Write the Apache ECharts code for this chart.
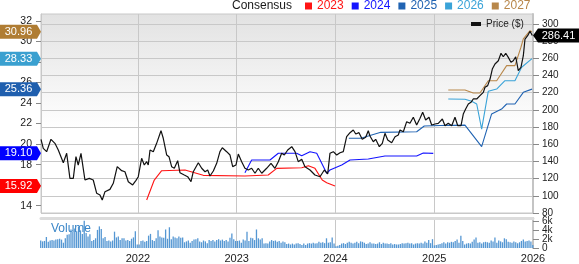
<!DOCTYPE html>
<html>
<head>
<meta charset="utf-8">
<script src="https://cdn.jsdelivr.net/npm/echarts@6/dist/echarts.min.js"></script>
<style>
html,body{margin:0;padding:0;background:#fff;}
#chart{width:579px;height:264px;}
</style>
</head>
<body>
<div id="chart"></div>
<script>
// ---------- data (x values are decimal years) ----------
const yearTicks = [2022, 2023, 2024, 2025, 2026];
const priceTicks = [80, 100, 120, 140, 160, 180, 200, 220, 240, 260, 280, 300];
const epsTicks = [14, 16, 18, 20, 22, 24, 26, 28, 30, 32];
const volumeTicks = [0, 2, 4, 6];

const epsNames = ['2023', '2024', '2025', '2026', '2027'];

const eps2023 = [[2022.088,14.56],[2022.165,16.50],[2022.240,17.41],[2022.476,17.48],[2022.661,16.96],[2023.083,16.89],[2023.319,16.99],[2023.405,17.64],[2023.658,17.70],[2023.725,17.90],[2023.792,17.64],[2023.866,16.50],[2023.911,16.24],[2023.995,15.92]];
const eps2024 = [[2023.083,17.22],[2023.151,18.45],[2023.337,18.45],[2023.421,19.11],[2023.607,19.11],[2023.658,18.87],[2023.742,19.26],[2023.810,19.11],[2023.911,17.16],[2023.944,17.48],[2024.063,17.97],[2024.147,18.45],[2024.332,18.55],[2024.501,18.84],[2024.822,18.84],[2024.889,19.13],[2024.990,19.10]];
const eps2025 = [[2024.135,20.57],[2024.256,20.57],[2024.459,21.15],[2024.822,21.21],[2024.899,21.77],[2025.058,21.82],[2025.311,21.85],[2025.480,19.75],[2025.581,22.94],[2025.682,23.42],[2025.733,23.91],[2025.817,23.91],[2025.902,25.05],[2025.990,25.36]];
const eps2026 = [[2025.142,24.40],[2025.311,24.37],[2025.379,24.17],[2025.430,23.91],[2025.480,21.47],[2025.547,25.15],[2025.632,25.37],[2025.716,26.18],[2025.817,26.18],[2025.885,27.49],[2025.990,28.33]];
const eps2027 = [[2025.142,25.28],[2025.311,25.28],[2025.395,24.98],[2025.463,24.98],[2025.547,26.18],[2025.632,26.18],[2025.733,27.65],[2025.817,27.65],[2025.878,29.44],[2025.902,30.25],[2025.970,31.06],[2025.990,30.96]];

const price = [[2021.018,165.7],[2021.041,155.2],[2021.075,151.3],[2021.119,165.7],[2021.159,161.0],[2021.193,153.3],[2021.244,138.5],[2021.278,149.4],[2021.311,120.3],[2021.345,120.3],[2021.372,145.5],[2021.395,135.8],[2021.423,149.4],[2021.463,118.4],[2021.507,120.3],[2021.547,118.4],[2021.582,102.9],[2021.615,101.0],[2021.638,95.1],[2021.666,104.8],[2021.716,107.5],[2021.750,114.5],[2021.790,133.9],[2021.835,129.2],[2021.868,128.0],[2021.902,116.4],[2021.946,112.6],[2021.980,118.0],[2022.003,122.2],[2022.037,143.6],[2022.064,135.8],[2022.088,139.7],[2022.104,135.8],[2022.122,153.3],[2022.155,151.3],[2022.189,161.0],[2022.233,175.7],[2022.256,166.9],[2022.291,147.4],[2022.314,145.5],[2022.341,133.9],[2022.368,132.0],[2022.402,140.8],[2022.425,126.9],[2022.469,124.2],[2022.503,122.2],[2022.537,116.4],[2022.560,128.0],[2022.577,126.9],[2022.611,138.5],[2022.645,132.0],[2022.679,128.0],[2022.706,130.0],[2022.729,123.0],[2022.763,128.8],[2022.797,137.8],[2022.830,151.3],[2022.854,155.9],[2022.898,151.3],[2022.932,147.4],[2022.959,133.9],[2022.992,135.8],[2023.016,148.5],[2023.050,139.7],[2023.083,132.0],[2023.117,130.0],[2023.151,132.0],[2023.185,126.2],[2023.218,132.0],[2023.253,126.2],[2023.303,132.0],[2023.347,137.8],[2023.387,132.0],[2023.421,139.7],[2023.455,149.4],[2023.482,147.4],[2023.516,153.3],[2023.557,157.1],[2023.590,151.3],[2023.623,139.7],[2023.658,142.4],[2023.691,133.9],[2023.742,130.0],[2023.792,124.2],[2023.843,122.2],[2023.887,130.0],[2023.921,125.4],[2023.944,149.4],[2023.978,151.3],[2024.012,147.4],[2024.046,150.1],[2024.079,151.3],[2024.113,168.7],[2024.147,173.4],[2024.180,176.5],[2024.205,171.9],[2024.238,173.4],[2024.271,165.7],[2024.306,168.0],[2024.332,175.7],[2024.349,169.5],[2024.383,162.9],[2024.407,165.7],[2024.444,157.1],[2024.474,161.0],[2024.501,172.7],[2024.529,164.9],[2024.569,161.7],[2024.603,168.7],[2024.636,170.7],[2024.653,176.5],[2024.687,174.5],[2024.721,186.2],[2024.754,184.3],[2024.788,191.3],[2024.822,182.3],[2024.856,190.1],[2024.883,197.1],[2024.913,188.1],[2024.947,191.3],[2024.974,182.3],[2025.008,183.5],[2025.041,184.3],[2025.082,189.3],[2025.109,181.5],[2025.142,184.3],[2025.177,181.5],[2025.210,191.3],[2025.238,181.5],[2025.271,181.5],[2025.294,195.1],[2025.318,200.9],[2025.345,206.7],[2025.372,208.7],[2025.395,212.6],[2025.430,212.6],[2025.463,216.4],[2025.497,220.3],[2025.514,226.2],[2025.541,228.1],[2025.565,235.8],[2025.588,247.4],[2025.615,253.3],[2025.649,257.1],[2025.676,265.7],[2025.699,261.7],[2025.724,265.7],[2025.750,261.0],[2025.777,255.2],[2025.800,257.1],[2025.825,261.7],[2025.851,245.5],[2025.878,249.4],[2025.902,262.9],[2025.919,282.3],[2025.946,286.2],[2025.970,291.3],[2025.993,286.41]];

// weekly volume (thousands), one list per year
const vol2021 = [1.7,1.5,1.6,2.5,1.4,1.7,1.8,1.7,1.9,2.0,2.1,1.9,1.2,2.2,3.0,3.1,4.2,3.6,4.4,3.8,4.8,4.0,3.2,6.2,3.4,2.6,3.1,1.6,1.8,2.2,4.1,4.9,4.3,2.2,2.5,1.6,1.7,1.5,1.7,3.7,2.4,2.6,1.8,2.2,2.2,1.7,1.8,1.6,2.1,2.4,3.8,0.8];
const vol2022 = [0.8,1.6,1.7,1.4,1.6,2.8,3.2,1.8,1.6,2.2,4.0,2.6,2.4,2.3,4.2,2.1,4.7,2.0,2.6,2.4,2.2,2.6,2.3,2.4,1.3,1.5,1.7,1.2,1.6,1.9,2.0,2.2,1.5,1.3,1.7,1.5,1.1,1.8,1.6,1.8,1.5,1.8,2.0,1.7,1.9,1.6,1.8,1.5,2.3,3.3,2.0,1.6];
const vol2023 = [1.6,1.7,1.2,1.9,1.7,3.7,1.6,2.3,2.2,1.8,4.2,2.2,1.9,2.2,1.0,1.1,1.0,1.5,1.8,1.6,1.7,1.4,1.6,1.2,1.5,1.3,0.9,1.0,0.8,1.0,0.8,1.0,1.1,0.9,0.7,1.0,0.7,1.0,1.1,1.0,1.2,1.0,1.1,1.4,1.2,1.3,1.1,2.2,1.2,1.3,2.4,1.0];
const vol2024 = [0.4,0.5,0.7,1.0,1.1,0.9,1.2,1.4,1.2,1.0,1.2,1.4,1.1,1.5,1.4,1.2,0.9,1.0,1.3,1.0,1.0,0.9,1.0,1.3,0.9,1.2,1.0,1.0,0.9,1.1,0.8,0.9,0.8,0.8,0.9,1.1,1.0,1.1,1.2,1.0,1.1,0.8,1.0,1.1,1.0,1.2,1.0,1.5,1.2,1.8,1.1,2.0];
const vol2025 = [0.6,0.7,0.8,0.9,1.1,1.3,1.0,1.3,1.2,1.4,1.3,1.6,1.9,1.2,2.8,1.6,0.8,1.0,1.1,1.0,1.4,1.9,2.4,1.2,1.3,1.0,1.3,1.4,1.3,1.2,1.7,1.5,2.4,1.2,1.7,1.5,1.3,2.2,2.0,1.4,1.3,1.2,1.5,1.3,1.1,1.3,1.6,1.9,1.5,1.6,1.7,1.5,0.7];
const volumeStart = 2021.015;          // first weekly bar
const weekStep = 7 / 365.25;           // one week in years

// ---------- build ----------
const X_MIN = 2021.018, X_MAX = 2026.0;
const FONT = '"Liberation Sans", Arial, Helvetica, sans-serif';
const epsData = [eps2023, eps2024, eps2025, eps2026, eps2027];
const epsColors = ['#ff1414', '#1414ff', '#2063b2', '#3aa3d8', '#b8874a'];
const tagColors = ['#ff0000', '#0000ff', '#1f5fae', '#3aa0d0', '#b07d33'];

const volumeAll = [].concat(vol2021, vol2022, vol2023, vol2024, vol2025);
const volumeData = volumeAll.map((v, i) => [volumeStart + i * weekStep, v]);

const chart = echarts.init(document.getElementById('chart'), null, {renderer: 'canvas'});

const epsSeries = epsNames.map((n, i) => ({
  name: n, type: 'line', xAxisIndex: 0, yAxisIndex: 1, data: epsData[i],
  symbol: 'none', lineStyle: {color: epsColors[i], width: 1.1}, itemStyle: {color: epsColors[i]},
  z: 3, silent: true
}));

// volume labels are split over two overlaid axes so that neighbouring labels never collide
const volumeAxis = (ticks, showLine) => ({
  type: 'value', gridIndex: 1, position: 'right', min: 0, max: 6.8,
  axisLine: {show: showLine, lineStyle: {color: '#c4c4c4', width: 2}},
  axisTick: {show: true, length: 6, customValues: ticks, lineStyle: {color: '#888'}},
  axisLabel: {customValues: ticks, formatter: v => v === 0 ? '0' : v + 'k',
    fontSize: 10, color: '#222', margin: 9, fontFamily: FONT},
  splitLine: {show: false}
});

const option = {
  animation: false,
  backgroundColor: '#ffffff',
  textStyle: {fontFamily: FONT},
  title: [
    {text: 'Consensus', left: 232, top: 0, padding: 0,
     textStyle: {fontSize: 12, fontWeight: 'normal', color: '#1a1a1a', fontFamily: FONT}},
    {text: 'Volume', left: 51, top: 223, padding: 0,
     textStyle: {fontSize: 12, fontWeight: 'normal', color: '#3a86c8', fontFamily: FONT}}
  ],
  legend: [
    {data: epsNames.map((n, i) => ({name: n, textStyle: {color: epsColors[i]}})),
     left: 305, top: 0, padding: 0, icon: 'rect', itemWidth: 7, itemHeight: 7, itemGap: 8,
     selectedMode: false, textStyle: {fontSize: 12, fontFamily: FONT}},
    {data: ['Price ($)'], left: 471, top: 19, padding: 0, icon: 'rect', itemWidth: 10, itemHeight: 4,
     selectedMode: false, textStyle: {fontSize: 10, color: '#222', fontFamily: FONT}}
  ],
  grid: [
    {left: 41, right: 46, top: 14, height: 199, show: true, borderColor: '#c8c8c8', borderWidth: 1,
     backgroundColor: {type: 'linear', x: 0, y: 0, x2: 0, y2: 1,
       colorStops: [{offset: 0, color: '#e2e2e2'}, {offset: 0.58, color: '#ffffff'}, {offset: 1, color: '#ffffff'}]}},
    {left: 41, right: 46, top: 218, height: 35.5, show: false}
  ],
  xAxis: [
    {type: 'value', gridIndex: 0, min: X_MIN, max: X_MAX,
     axisLine: {show: false}, axisTick: {show: false, customValues: yearTicks},
     axisLabel: {show: false, customValues: yearTicks},
     splitLine: {show: true, lineStyle: {color: '#c8c8c8', width: 1}}},
    {type: 'value', gridIndex: 1, min: X_MIN, max: X_MAX,
     axisLine: {show: false}, axisTick: {show: false, customValues: yearTicks},
     axisLabel: {show: true, customValues: yearTicks, formatter: v => String(Math.round(v)),
       fontSize: 11, color: '#222', margin: 5, fontFamily: FONT},
     splitLine: {show: true, lineStyle: {color: '#c8c8c8', width: 1}}},
    {type: 'value', gridIndex: 1, position: 'top', min: X_MIN, max: X_MAX,
     axisLine: {show: true, onZero: false, lineStyle: {color: '#dcdcdc', width: 3}},
     axisTick: {show: false}, axisLabel: {show: false}, splitLine: {show: false}}
  ],
  yAxis: [
    {type: 'value', gridIndex: 0, position: 'right', min: 80, max: 311.4,
     axisLine: {show: true, lineStyle: {color: '#c4c4c4', width: 2}},
     axisTick: {show: true, length: 6, customValues: priceTicks, lineStyle: {color: '#888'}},
     axisLabel: {customValues: priceTicks, fontSize: 10, color: '#222', margin: 9, fontFamily: FONT},
     splitLine: {show: true, lineStyle: {color: '#c8c8c8', width: 1}}},
    {type: 'value', gridIndex: 0, position: 'left', min: 13.29, max: 32.68,
     axisLine: {show: true, lineStyle: {color: '#c8c8c8', width: 1}},
     axisTick: {show: true, length: 5, customValues: epsTicks, lineStyle: {color: '#888'}},
     axisLabel: {customValues: epsTicks, fontSize: 10.5, color: '#222', margin: 9, fontFamily: FONT},
     splitLine: {show: false}},
    volumeAxis(volumeTicks.filter((v, i) => i % 2 === 0), true),
    volumeAxis(volumeTicks.filter((v, i) => i % 2 === 1), false)
  ],
  series: [
    {name: 'Volume', type: 'bar', xAxisIndex: 1, yAxisIndex: 2, data: volumeData,
     barWidth: 1.3, itemStyle: {color: '#5597d3'}, silent: true, z: 2},
    ...epsSeries,
    {name: 'Price ($)', type: 'line', xAxisIndex: 0, yAxisIndex: 0, data: price,
     symbol: 'none', lineStyle: {color: '#111', width: 1.2}, itemStyle: {color: '#111'}, z: 4, silent: true},
    // left value tags (last consensus value of each year)
    {type: 'custom', xAxisIndex: 0, yAxisIndex: 1, clip: false, z: 10, silent: true,
     data: epsData.map(s => [X_MIN, s[s.length - 1][1]]),
     encode: {x: 0, y: 1},
     renderItem: (params, api) => {
       const p = api.coord([api.value(0), api.value(1)]);
       const x = p[0], y = p[1], h = 7;
       return {type: 'group', children: [
         {type: 'polygon', shape: {points: [[0, y - h], [x - 4, y - h], [x, y], [x - 4, y + h], [0, y + h]]},
          style: {fill: tagColors[params.dataIndex]}},
         {type: 'text', style: {text: api.value(1).toFixed(2), x: (x - 4) / 2, y: y,
          align: 'center', verticalAlign: 'middle', fill: '#fff', font: '11px ' + FONT}}
       ]};
     }},
    // right price tag
    {type: 'custom', xAxisIndex: 0, yAxisIndex: 0, clip: false, z: 10, silent: true,
     data: [[X_MAX, price[price.length - 1][1]]],
     encode: {x: 0, y: 1},
     renderItem: (params, api) => {
       const p = api.coord([api.value(0), api.value(1)]);
       const x = p[0], y = p[1], h = 7, w = api.getWidth();
       return {type: 'group', children: [
         {type: 'polygon', shape: {points: [[x, y], [x + 5, y - h], [w, y - h], [w, y + h], [x + 5, y + h]]},
          style: {fill: '#000'}},
         {type: 'text', style: {text: api.value(1).toFixed(2), x: (x + 5 + w) / 2, y: y,
          align: 'center', verticalAlign: 'middle', fill: '#fff', font: '11px ' + FONT}}
       ]};
     }}
  ]
};
chart.setOption(option);
</script>
</body>
</html>
